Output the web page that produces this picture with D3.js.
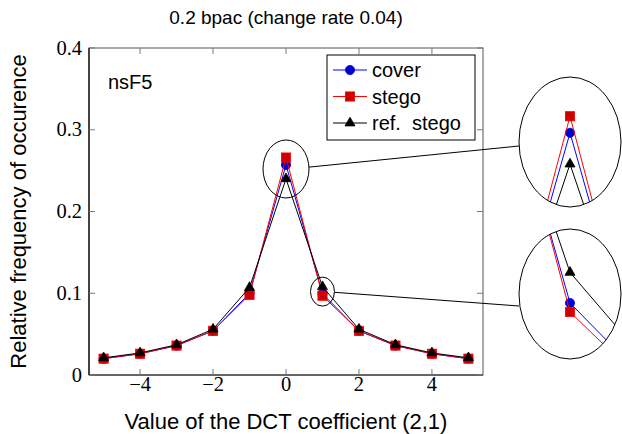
<!DOCTYPE html>
<html>
<head>
<meta charset="utf-8">
<script src="https://cdn.jsdelivr.net/npm/d3@7"></script>
<style>
  body { margin: 0; background: #fff; }
  svg { display: block; }
</style>
</head>
<body>
<svg id="chart" width="622" height="434"></svg>
<script>
// データ (DCT係数 (2,1) のヒストグラム)
const coeffs = [-5, -4, -3, -2, -1, 0, 1, 2, 3, 4, 5];
const cover = [0.020, 0.026, 0.036, 0.054, 0.100, 0.257, 0.0995, 0.054, 0.036, 0.026, 0.020];
const stego = [0.020, 0.026, 0.036, 0.054, 0.098, 0.266, 0.097, 0.054, 0.036, 0.026, 0.020];
const refStego = [0.021, 0.027, 0.037, 0.056, 0.107, 0.240, 0.108, 0.056, 0.037, 0.027, 0.021];
const xTicks = [-4, -2, 0, 2, 4];
const yTicks = [0, 0.1, 0.2, 0.3, 0.4];
const seriesNames = ["cover", "stego", "ref. stego"];

const svg = d3.select("#chart");
const plotL = 89, plotR = 483, plotT = 48, plotB = 375;

const x = d3.scaleLinear().domain([-5.4, 5.4]).range([plotL, plotR]);
const y = d3.scaleLinear().domain([0, 0.4]).range([plotB, plotT]);

const sans = "'Liberation Sans', Arial, sans-serif";
const serif = "'Liberation Serif', serif";

const series = [
  {name: seriesNames[0], values: cover, line: "#0000ff", fill: "#0000cc", mark: "circle"},
  {name: seriesNames[1], values: stego, line: "#ff0000", fill: "#cc0000", mark: "square"},
  {name: seriesNames[2], values: refStego, line: "#000000", fill: "#000000", mark: "triangle"}
];

// マーカー描画
function drawMark(g, mark, cx, cy, s) {
  if (mark === "circle") {
    g.append("circle").attr("cx", cx).attr("cy", cy).attr("r", 4.6)
      .attr("fill", s.fill).attr("stroke", s.line).attr("stroke-width", 0.8);
  } else if (mark === "square") {
    g.append("rect").attr("x", cx - 4.6).attr("y", cy - 4.6)
      .attr("width", 9.2).attr("height", 9.2)
      .attr("fill", s.fill).attr("stroke", s.line).attr("stroke-width", 0.8);
  } else {
    const r = 5.8;
    g.append("path")
      .attr("d", `M${cx},${cy - r}L${cx + r * 0.866},${cy + r / 2}L${cx - r * 0.866},${cy + r / 2}Z`)
      .attr("fill", s.fill).attr("stroke", s.line).attr("stroke-width", 0.8);
  }
}

function drawSeries(g, sx, sy) {
  series.forEach(s => {
    const pts = coeffs.map((c, i) => [sx(c), sy(s.values[i])]);
    g.append("path")
      .attr("d", d3.line()(pts))
      .attr("fill", "none")
      .attr("stroke", s.line)
      .attr("stroke-width", 1);
    pts.forEach(p => drawMark(g, s.mark, p[0], p[1], s));
  });
}

// 軸の枠
svg.append("rect")
  .attr("x", plotL).attr("y", plotT)
  .attr("width", plotR - plotL).attr("height", plotB - plotT)
  .attr("fill", "none").attr("stroke", "#555").attr("stroke-width", 1);
svg.append("line").attr("x1", plotL).attr("x2", plotL).attr("y1", plotT).attr("y2", plotB)
  .attr("stroke", "#000").attr("stroke-width", 1.2);
svg.append("line").attr("x1", plotL).attr("x2", plotR).attr("y1", plotB).attr("y2", plotB)
  .attr("stroke", "#222").attr("stroke-width", 1.2);

// 目盛り (内向き、四辺)
const tickLen = 6;
xTicks.forEach(t => {
  svg.append("line").attr("x1", x(t)).attr("x2", x(t)).attr("y1", plotB).attr("y2", plotB - tickLen)
    .attr("stroke", "#777");
  svg.append("line").attr("x1", x(t)).attr("x2", x(t)).attr("y1", plotT).attr("y2", plotT + tickLen)
    .attr("stroke", "#777");
  svg.append("text").attr("x", x(t)).attr("y", plotB + 16)
    .attr("text-anchor", "middle")
    .style("font-family", serif).style("font-size", "20.5px")
    .text(t < 0 ? "\u2212" + Math.abs(t) : String(t));
});
yTicks.forEach(t => {
  svg.append("line").attr("x1", plotL).attr("x2", plotL + tickLen).attr("y1", y(t)).attr("y2", y(t))
    .attr("stroke", "#777");
  svg.append("line").attr("x1", plotR).attr("x2", plotR - tickLen).attr("y1", y(t)).attr("y2", y(t))
    .attr("stroke", "#777");
  svg.append("text").attr("x", plotL - 7).attr("y", y(t) + 6.5)
    .attr("text-anchor", "end")
    .style("font-family", serif).style("font-size", "20.5px")
    .text(t === 0 ? "0" : t.toFixed(1));
});

// データ
drawSeries(svg.append("g"), x, y);

// 凡例
const leg = svg.append("g");
leg.append("rect").attr("x", 327).attr("y", 55).attr("width", 148).attr("height", 85)
  .attr("fill", "#fff").attr("stroke", "#000").attr("stroke-width", 1);
series.forEach((s, i) => {
  const ly = 70 + i * 26.5;
  leg.append("line").attr("x1", 333).attr("x2", 367).attr("y1", ly).attr("y2", ly)
    .attr("stroke", s.line).attr("stroke-width", 1);
  drawMark(leg, s.mark, 350, ly, s);
  leg.append("text").attr("x", 372).attr("y", ly + 7)
    .style("font-family", sans).style("font-size", "20px")
    .text(s.name === "ref. stego" ? "ref.\u00a0 stego" : s.name);
});

// テキスト
svg.append("text").attr("x", 108).attr("y", 89)
  .style("font-family", sans).style("font-size", "20px")
  .text("nsF5");
svg.append("text").attr("x", (plotL + plotR) / 2).attr("y", 24).attr("text-anchor", "middle")
  .style("font-family", sans).style("font-size", "19px")
  .text("0.2 bpac (change rate 0.04)");
svg.append("text").attr("x", (plotL + plotR) / 2).attr("y", 429).attr("text-anchor", "middle")
  .style("font-family", sans).style("font-size", "22px")
  .text("Value of the DCT coefficient (2,1)");
svg.append("text")
  .attr("transform", `translate(26,${(plotT + plotB) / 2}) rotate(-90)`)
  .attr("text-anchor", "middle")
  .style("font-family", sans).style("font-size", "22px")
  .text("Relative frequency of occurence");

// 拡大表示 (spy)
const spies = [
  {cx: 0, cy: 0.252, rx: 23, ry: 29, bx: 570, by: 142, brx: 51, bry: 65, k: 2.25, ly: 4},
  {cx: 1, cy: 0.102, rx: 12, ry: 14.5, bx: 570, by: 294, brx: 51, bry: 65, k: 4.4, ly: 12}
];
const defs = svg.append("defs");
spies.forEach((sp, i) => {
  const scx = x(sp.cx), scy = y(sp.cy);
  svg.append("ellipse").attr("cx", scx).attr("cy", scy).attr("rx", sp.rx).attr("ry", sp.ry)
    .attr("fill", "none").attr("stroke", "#000").attr("stroke-width", 1);
  // 接続線
  const dx = sp.bx - scx, dy = sp.by + sp.ly - scy;
  const t = 1 / Math.sqrt((dx / sp.rx) ** 2 + (dy / sp.ry) ** 2);
  svg.append("line")
    .attr("x1", scx + dx * t).attr("y1", scy + dy * t)
    .attr("x2", sp.bx - sp.brx).attr("y2", sp.by + sp.ly)
    .attr("stroke", "#000").attr("stroke-width", 1);

  defs.append("clipPath").attr("id", "spy" + i)
    .append("ellipse").attr("cx", sp.bx).attr("cy", sp.by).attr("rx", sp.brx).attr("ry", sp.bry);
  svg.append("ellipse").attr("cx", sp.bx).attr("cy", sp.by).attr("rx", sp.brx).attr("ry", sp.bry)
    .attr("fill", "#fff");
  const g = svg.append("g").attr("clip-path", `url(#spy${i})`);
  drawSeries(g, v => sp.bx + sp.k * (x(v) - scx), v => sp.by + sp.k * (y(v) - scy));
  svg.append("ellipse").attr("cx", sp.bx).attr("cy", sp.by).attr("rx", sp.brx).attr("ry", sp.bry)
    .attr("fill", "none").attr("stroke", "#000").attr("stroke-width", 1);
});
</script>
</body>
</html>
